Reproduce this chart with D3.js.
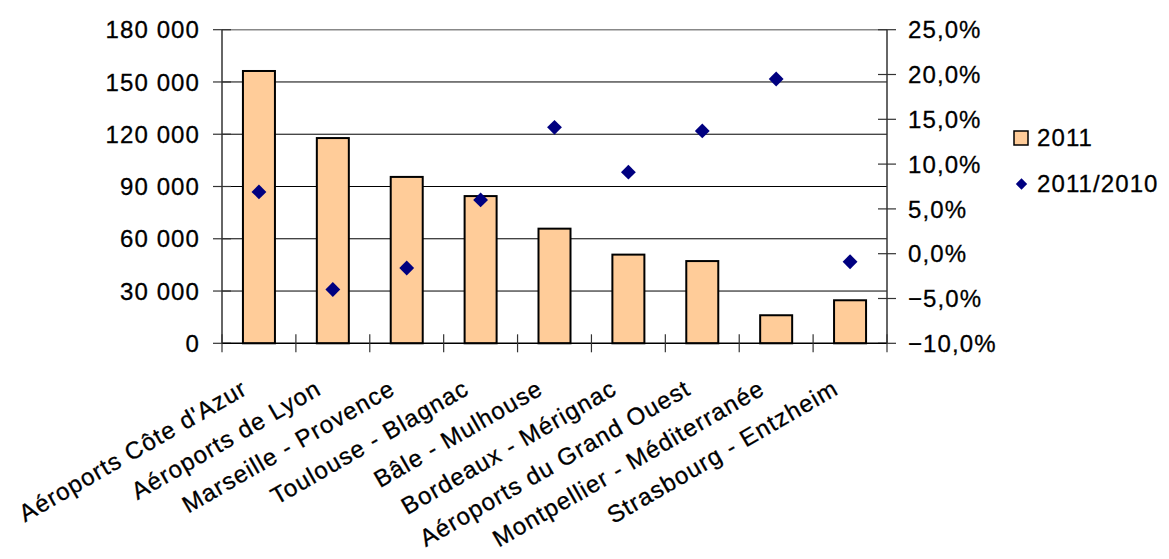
<!DOCTYPE html>
<html><head><meta charset="utf-8">
<script src="https://cdn.jsdelivr.net/npm/d3@7"></script>
<style>
body{margin:0;background:#fff;}
text{font-family:"Liberation Sans",Arial,sans-serif;font-size:24px;letter-spacing:1.1px;fill:#000;stroke:#000;stroke-width:0.3px;}
</style></head><body>
<svg id="c" width="1169" height="559"></svg>
<script>
const categories = ["Aéroports Côte d'Azur","Aéroports de Lyon","Marseille - Provence","Toulouse - Blagnac","Bâle - Mulhouse","Bordeaux - Mérignac","Aéroports du Grand Ouest","Montpellier - Méditerranée","Strasbourg - Entzheim"];
const values2011 = [156300, 117800, 95500, 84500, 65800, 50900, 47200, 16100, 24700];
const growth = [6.9, -4.0, -1.6, 6.0, 14.1, 9.1, 13.7, 19.5, -0.9];
const leftTicks = [0, 30000, 60000, 90000, 120000, 150000, 180000];
const rightTicks = [-10, -5, 0, 5, 10, 15, 20, 25];
const seriesNames = ["2011", "2011/2010"];

const svg = d3.select("#c");
const L = 222, R = 887, T = 29.7, B = 343.3;
const x = d3.scaleBand().domain(categories).range([L, R]).paddingInner(0).paddingOuter(0);
const y = d3.scaleLinear().domain([0, 180000]).range([B, T]);
const y2 = d3.scaleLinear().domain([-10, 25]).range([B, T]);
const fmtL = v => d3.format(",")(v).replace(/,/g, " ");
const fmtR = v => d3.format(".1f")(v).replace(".", ",") + "%";

// gridlines
svg.append("g").selectAll("line").data(leftTicks.filter(d => d > 0)).join("line")
  .attr("x1", L).attr("x2", R).attr("y1", d => y(d)).attr("y2", d => y(d))
  .attr("stroke", d => d === 180000 ? "#888" : "#000").attr("stroke-width", d => d === 180000 ? 1.5 : 1);

// bars
const bw = 32;
svg.append("g").selectAll("rect").data(values2011).join("rect")
  .attr("x", (d, i) => x(categories[i]) + x.bandwidth() / 2 - bw / 2)
  .attr("width", bw)
  .attr("y", d => y(d)).attr("height", d => B - y(d))
  .attr("fill", "#FFCC99").attr("stroke", "#000").attr("stroke-width", 2);

// left axis
const gl = svg.append("g").attr("transform", `translate(${L},0)`);
gl.append("line").attr("x1", 0).attr("x2", 0).attr("y1", T).attr("y2", B).attr("stroke", "#333").attr("stroke-width", 1.5);
gl.selectAll(".t").data(leftTicks).join("line").attr("x1", -9).attr("x2", 9)
  .attr("y1", d => y(d)).attr("y2", d => y(d)).attr("stroke", "#333").attr("stroke-width", 1.2);
gl.selectAll("text").data(leftTicks).join("text").attr("x", -22).attr("y", d => y(d)).attr("dy", "0.36em")
  .attr("text-anchor", "end").text(fmtL);

// right axis
const gr = svg.append("g").attr("transform", `translate(${R},0)`);
gr.append("line").attr("x1", 0).attr("x2", 0).attr("y1", T).attr("y2", B).attr("stroke", "#333").attr("stroke-width", 1.5);
gr.selectAll(".t").data(rightTicks).join("line").attr("x1", -9).attr("x2", 9)
  .attr("y1", d => y2(d)).attr("y2", d => y2(d)).attr("stroke", "#333").attr("stroke-width", 1.2);
gr.selectAll("text").data(rightTicks).join("text").attr("x", 21).attr("y", d => y2(d)).attr("dy", "0.36em")
  .attr("text-anchor", "start").text(fmtR);

// bottom axis
const gb = svg.append("g");
gb.append("line").attr("x1", L).attr("x2", R).attr("y1", B).attr("y2", B).attr("stroke", "#000").attr("stroke-width", 1.5);
const edges = categories.map(c => x(c)).concat([R]);
gb.selectAll(".t").data(edges).join("line").attr("x1", d => d).attr("x2", d => d)
  .attr("y1", B - 9).attr("y2", B + 9).attr("stroke", "#333").attr("stroke-width", 1.2);
gb.selectAll("text").data(categories).join("text")
  .attr("transform", d => `translate(${x(d) + x.bandwidth() / 2 - 10},${B + 50}) rotate(-30)`)
  .attr("text-anchor", "end").text(d => d);

// points
svg.append("g").selectAll("path").data(growth).join("path")
  .attr("transform", (d, i) => `translate(${x(categories[i]) + x.bandwidth() / 2},${y2(d)}) rotate(45)`)
  .attr("d", d3.symbol().type(d3.symbolSquare).size(110)).attr("fill", "#000080");

// legend
const lg = svg.append("g");
lg.append("rect").attr("x", 1014).attr("y", 131).attr("width", 14).attr("height", 14)
  .attr("fill", "#FFCC99").attr("stroke", "#000").attr("stroke-width", 1.5);
lg.append("text").attr("x", 1037).attr("y", 146).text(seriesNames[0]);
lg.append("path").attr("transform", "translate(1021.5,184) rotate(45)")
  .attr("d", d3.symbol().type(d3.symbolSquare).size(64)).attr("fill", "#000080");
lg.append("text").attr("x", 1037).attr("y", 192).text(seriesNames[1]);
</script>
</body></html>
